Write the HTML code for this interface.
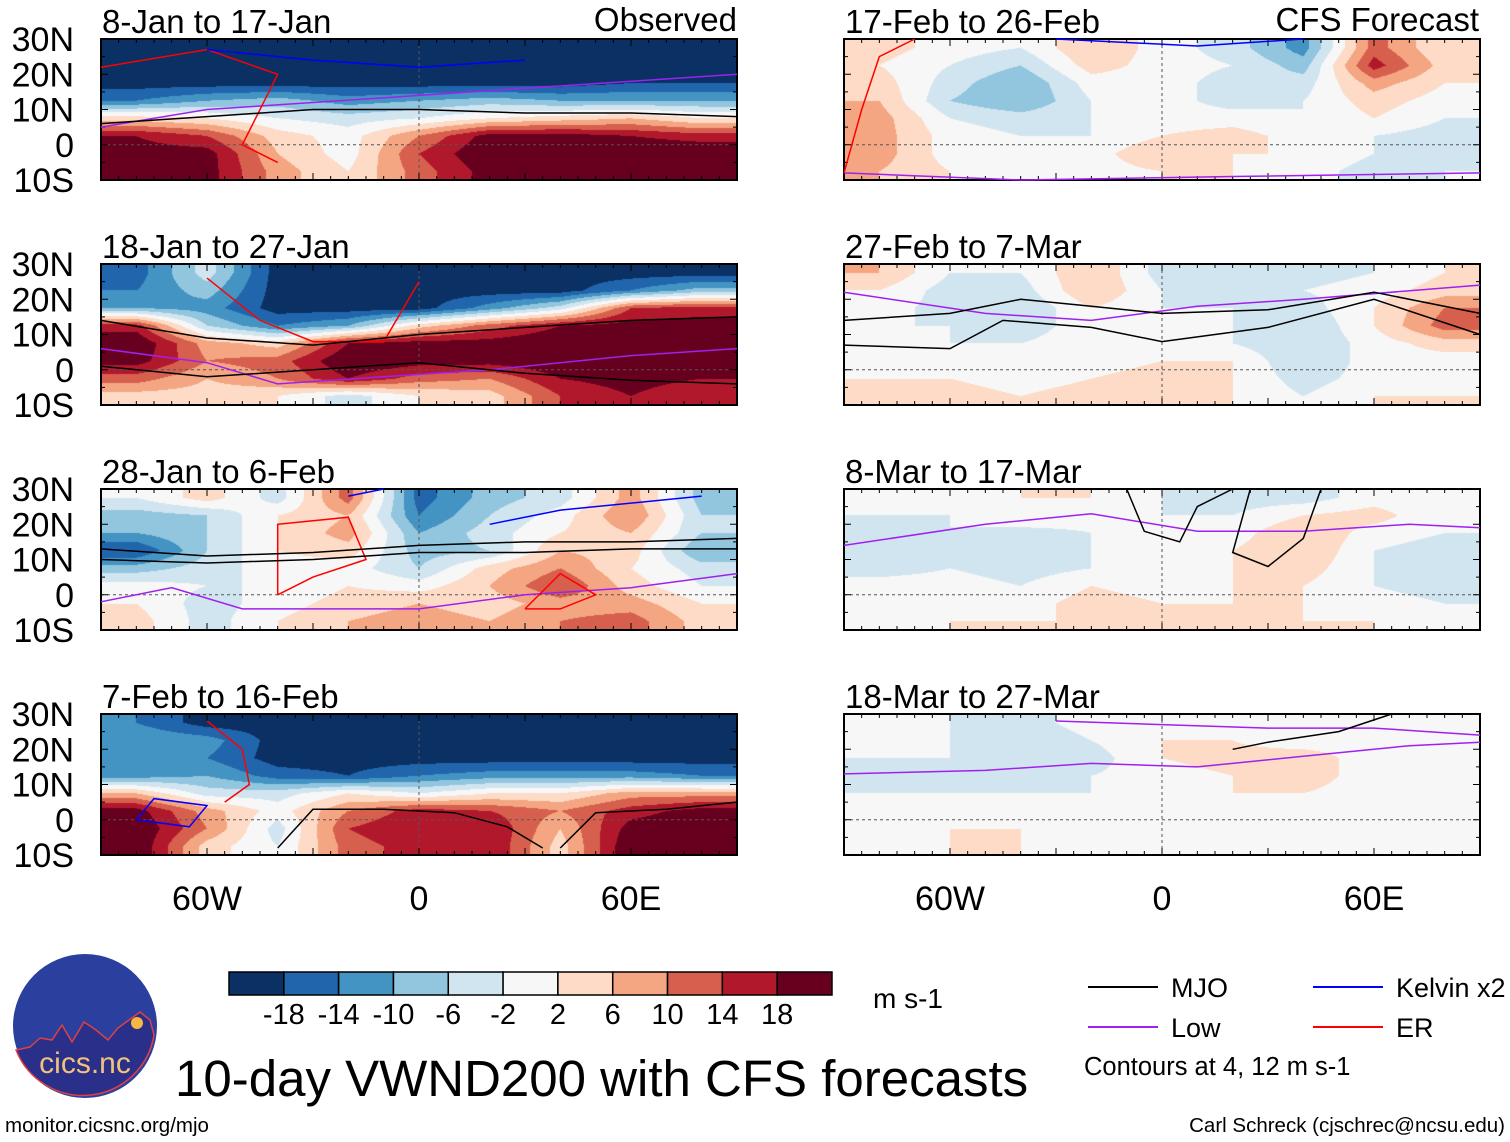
<!DOCTYPE html>
<html><head><meta charset="utf-8">
<style>
html,body{margin:0;padding:0;background:#fff;}
body{width:1510px;height:1142px;position:relative;overflow:hidden;font-family:"Liberation Sans",Arial,sans-serif;}
canvas{position:absolute;}
</style></head>
<body>
<svg id="chart" width="1510" height="1142" style="position:absolute;left:0;top:0"></svg>
<script>
// ---- data (grid: rows lat 27.5..-7.5 step 5; cols lon -80..80 step 20) ----
const panelTitles = ["8-Jan to 17-Jan","18-Jan to 27-Jan","28-Jan to 6-Feb","7-Feb to 16-Feb","17-Feb to 26-Feb","27-Feb to 7-Mar","8-Mar to 17-Mar","18-Mar to 27-Mar"];
const gridLats = [27.5,22.5,17.5,12.5,7.5,2.5,-2.5,-7.5];
const gridLons = [-80,-60,-40,-20,0,20,40,60,80];
const p1 = [[-20,-20,-20,-20,-20,-20,-20,-20,-20],[-20,-20,-20,-20,-20,-20,-20,-20,-20],[-20,-20,-20,-20,-20,-20,-20,-18,-18],[-14,-10,-8,-12,-10,-8,-10,-10,-10],[4,2,-2,-4,-2,2,4,6,2],[18,14,4,0,10,20,20,18,16],[20,20,6,0,14,22,22,22,22],[20,20,8,2,12,20,22,22,22]];
const p2 = [[-16,-4,-20,-20,-20,-20,-20,-20,-20],[-14,-8,-20,-20,-20,-20,-20,-14,-8],[-10,-12,-20,-20,-20,-12,-4,14,16],[16,-6,-14,-10,4,12,18,20,20],[22,8,4,18,20,20,22,22,22],[20,10,12,22,20,20,22,22,20],[12,6,10,18,12,10,18,20,18],[4,4,2,-4,2,4,14,18,14]];
const p3 = [[-2,4,-4,12,-16,-8,-4,8,-8],[-8,-6,2,6,-14,-6,0,10,-6],[-10,-6,2,8,-10,-4,2,6,-6],[-18,-6,2,4,-8,-6,6,4,-10],[-8,-4,0,0,-6,4,10,2,-4],[0,-2,-2,2,0,6,14,4,-2],[2,-4,0,4,6,4,8,8,2],[4,-4,2,6,8,6,10,12,4]];
const p4 = [[-14,-20,-20,-20,-20,-20,-20,-20,-20],[-10,-12,-20,-20,-20,-20,-20,-20,-20],[-14,-14,-20,-20,-20,-20,-20,-20,-20],[-12,-10,-16,-18,-14,-12,-12,-12,-14],[6,-4,-4,2,-2,2,2,8,8],[20,8,0,10,16,14,10,16,20],[22,10,-4,14,18,18,6,20,22],[22,4,-2,12,16,18,4,22,22]];
const p5 = [[4,0,-2,6,0,-4,-12,12,2],[2,-2,-6,4,0,-2,-8,16,4],[4,-4,-10,0,0,-4,-4,8,2],[6,-6,-10,-2,0,-4,-2,4,0],[8,-2,-4,-2,0,0,-2,2,-2],[8,0,-2,-2,2,4,0,-2,-4],[8,0,0,0,6,2,2,-2,-4],[6,2,0,0,2,2,0,-4,-2]];
const p6 = [[6,-2,-2,6,-4,-2,-4,-2,2],[2,-4,-4,6,-2,-4,-2,0,4],[0,-4,-6,2,-2,-2,-4,2,10],[-2,-2,-4,0,0,-2,-6,2,12],[0,-2,-2,0,0,-2,-6,0,4],[0,0,-2,0,2,2,-6,0,0],[2,2,0,2,4,2,-4,0,0],[2,4,2,4,4,2,-2,2,2]];
const p7 = [[-2,-2,2,2,-2,-4,-4,0,-2],[-2,-2,2,0,-2,-2,2,4,-2],[-4,-2,-4,-2,-2,0,6,0,-2],[-6,-4,-6,-2,0,2,6,-2,-4],[-4,-2,-4,-2,0,2,4,-2,-6],[0,0,-2,2,0,2,2,-2,-4],[2,2,0,4,2,2,2,0,-2],[0,2,2,2,2,4,2,2,0]];
const p8 = [[0,-2,-4,0,0,-2,0,0,0],[-2,-2,-6,-2,2,2,-2,0,0],[-2,-2,-6,-4,2,4,6,-2,0],[-4,-2,-4,-2,0,2,4,0,0],[-2,-2,-2,-2,0,2,2,0,0],[0,0,0,0,0,0,0,0,0],[0,2,2,0,0,0,2,0,0],[0,2,2,0,0,0,0,0,0]];
const panelGrids = [p1,p2,p3,p4,p5,p6,p7,p8];
const levels = [-18,-14,-10,-6,-2,2,6,10,14,18];
const levelLabels = ["-18","-14","-10","-6","-2","2","6","10","14","18"];
const palette = ["#0a3064","#2166ac","#4393c3","#92c5de","#d1e5f0","#f7f7f7","#fddbc7","#f4a582","#d6604d","#b2182b","#67001f"];
const mjoLines = [
 [0,[[-90,6],[-60,8],[-30,10],[0,10],[30,9],[60,9],[90,8]]],
 [1,[[-90,14],[-60,9],[-30,7],[0,10],[30,12],[60,14],[90,15]]],
 [1,[[-90,1],[-60,-2],[-30,0],[0,2],[30,-1],[60,-3],[90,-4]]],
 [2,[[-90,13],[-60,11],[-30,12],[0,14],[30,15],[60,15],[90,16]]],
 [2,[[-90,10],[-60,9],[-30,10],[0,12],[30,12],[60,13],[90,13]]],
 [3,[[-40,-8],[-30,3],[-10,3],[10,2],[25,-2],[35,-8]]],
 [3,[[40,-8],[50,2],[70,3],[90,5]]],
 [5,[[-90,7],[-60,6],[-45,14],[-20,12],[0,8],[30,12],[60,20],[90,10]]],
 [5,[[-90,14],[-60,16],[-40,20],[-20,18],[0,16],[30,17],[60,22],[90,16]]],
 [6,[[-10,30],[-5,18],[5,15],[10,25],[20,30]]],
 [6,[[25,30],[20,12],[30,8],[40,16],[45,30]]],
 [7,[[20,20],[30,22],[50,25],[65,30]]]
];
const lowLines = [
 [0,[[-90,5],[-60,10],[-30,12],[0,14],[30,16],[60,18],[90,20]]],
 [1,[[-90,6],[-60,2],[-40,-4],[-10,-2],[20,0],[60,4],[90,6]]],
 [2,[[-90,-2],[-70,2],[-50,-4],[0,-4],[30,0],[60,2],[90,6]]],
 [4,[[-90,-8],[-40,-10],[20,-9],[90,-8]]],
 [5,[[-90,22],[-50,16],[-20,14],[10,18],[40,20],[90,24]]],
 [6,[[-90,14],[-50,20],[-20,23],[10,18],[40,18],[70,20],[90,19]]],
 [7,[[-90,13],[-50,14],[-20,16],[10,15],[40,18],[70,21],[90,22]]],
 [7,[[-30,28],[0,27],[30,26],[60,26],[90,24]]]
];
const erLines = [
 [0,[[-90,22],[-60,27],[-40,20],[-50,0],[-40,-5]]],
 [1,[[-60,26],[-45,14],[-30,8],[-10,8],[0,25]]],
 [2,[[-40,0],[-40,20],[-20,22],[-15,10],[-30,5],[-40,0]]],
 [2,[[30,-4],[40,6],[50,0],[40,-4],[30,-4]]],
 [3,[[-60,28],[-50,20],[-48,10],[-55,5]]],
 [4,[[-90,-8],[-85,10],[-80,25],[-70,30]]]
];
const kelvinLines = [
 [0,[[-60,27],[-30,24],[0,22],[30,24]]],
 [3,[[-80,0],[-65,-2],[-60,4],[-75,6],[-80,0]]],
 [4,[[-30,30],[10,28],[40,30]]],
 [2,[[-20,28],[-10,30]]],
 [2,[[20,20],[40,24],[80,28]]]
];
const colX = [101,844], rowY = [39,264,489,714], PW=636, PH=141;
const lonLeft=-90, lonRight=90, latTop=30, latBot=-10;
function xOf(p,lon){return colX[Math.floor(p/4)] + (lon-lonLeft)/(lonRight-lonLeft)*PW;}
function yOf(p,lat){return rowY[p%4] + (latTop-lat)/(latTop-latBot)*PH;}
function hexRgb(h){return [parseInt(h.substr(1,2),16),parseInt(h.substr(3,2),16),parseInt(h.substr(5,2),16)];}
function sample(g,lon,lat){
  let fc=(lon-gridLons[0])/20, fr=(gridLats[0]-lat)/5;
  fc=Math.max(0,Math.min(gridLons.length-1,fc)); fr=Math.max(0,Math.min(gridLats.length-1,fr));
  const c0=Math.floor(fc),r0=Math.floor(fr),c1=Math.min(c0+1,gridLons.length-1),r1=Math.min(r0+1,gridLats.length-1);
  const sx=fc-c0,sy=fr-r0;
  const a=g[r0][c0]*(1-sx)+g[r0][c1]*sx, b=g[r1][c0]*(1-sx)+g[r1][c1]*sx;
  return a*(1-sy)+b*sy;
}
const NS="http://www.w3.org/2000/svg";
const svg=document.getElementById('chart');
function mk(tag,attrs,parent){const e=document.createElementNS(NS,tag);for(const k in attrs)e.setAttribute(k,attrs[k]);(parent||svg).appendChild(e);return e;}
function txt(s,x,y,size,anchor,name){const e=mk('text',{x:x,y:y,'font-size':size,'text-anchor':anchor||'start','font-family':'Liberation Sans, Arial, sans-serif',fill:'#000'});e.textContent=s;


return e;}

for(let p=0;p<8;p++){
  const x0=colX[Math.floor(p/4)], y0=rowY[p%4];
  const cv=document.createElement('canvas');
  cv.width=PW;cv.height=PH;cv.style.left=x0+'px';cv.style.top=y0+'px';
  
  
  document.body.insertBefore(cv,svg);
  const ctx=cv.getContext('2d');const img=ctx.createImageData(PW,PH);
  const rgbs=palette.map(hexRgb);
  for(let j=0;j<PH;j++){const lat=latTop-(j+0.5)/PH*(latTop-latBot);
    for(let i=0;i<PW;i++){const lon=lonLeft+(i+0.5)/PW*(lonRight-lonLeft);
      const v=sample(panelGrids[p],lon,lat);let k=0;while(k<levels.length&&v>=levels[k])k++;
      const c=rgbs[k],o=(j*PW+i)*4;img.data[o]=c[0];img.data[o+1]=c[1];img.data[o+2]=c[2];img.data[o+3]=255;}}
  ctx.putImageData(img,0,0);
  const g=mk('g',{});
  
  
  mk('line',{x1:x0,x2:x0+PW,y1:yOf(p,0),y2:yOf(p,0),stroke:'#555','stroke-dasharray':'3,3','stroke-width':1},g);
  mk('line',{x1:xOf(p,0),x2:xOf(p,0),y1:y0,y2:y0+PH,stroke:'#555','stroke-dasharray':'3,3','stroke-width':1},g);
  mk('rect',{x:x0,y:y0,width:PW,height:PH,fill:'none',stroke:'#000','stroke-width':2},g);
  for(let lon=-90;lon<=90;lon+=5){const x=xOf(p,lon),L=(lon%30==0)?7:4;
    mk('line',{x1:x,x2:x,y1:y0,y2:y0+L,stroke:'#000','stroke-width':1},g);
    mk('line',{x1:x,x2:x,y1:y0+PH,y2:y0+PH-L,stroke:'#000','stroke-width':1},g);}
  for(let lat=-10;lat<=30;lat+=5){const y=yOf(p,lat),L=(lat%10==0)?7:4;
    mk('line',{x1:x0,x2:x0+L,y1:y,y2:y,stroke:'#000','stroke-width':1},g);
    mk('line',{x1:x0+PW,x2:x0+PW-L,y1:y,y2:y,stroke:'#000','stroke-width':1},g);}
  txt(panelTitles[p],x0+1,y0-6,33,'start','panel-title-'+(p+1));
  if(p<4){const ys=["30N","20N","10N","0","10S"];[30,20,10,0,-10].forEach((lat,k)=>txt(ys[k],74,yOf(p,lat)+12,34,'end','y-tick-label'));}
}
function drawLines(set,color,name){set.forEach(([p,pts])=>{
  const d=pts.map((q,i)=>(i?'L':'M')+xOf(p,q[0]).toFixed(1)+','+yOf(p,q[1]).toFixed(1)).join(' ');
  const e=mk('path',{d:d,fill:'none',stroke:color,'stroke-width':1.5});
  
  });}
drawLines(lowLines,'#a020f0','low-contour');
drawLines(erLines,'#ff0000','er-contour');
drawLines(kelvinLines,'#0000ff','kelvin-contour');
drawLines(mjoLines,'#000000','mjo-contour');
txt("Observed",737,31,33,'end','observed-label');
txt("CFS Forecast",1479,31,33,'end','cfs-forecast-label');
[0,1].forEach(c=>{const lab=["60W","0","60E"];[-60,0,60].forEach((lon,k)=>txt(lab[k],xOf(c*4,lon),910,34,'middle','x-tick-label'));});
const cbX=229,cbY=972,cbW=603/11,cbH=23;
palette.forEach((c,i)=>{const r=mk('rect',{x:cbX+i*cbW,y:cbY,width:cbW,height:cbH,fill:c,stroke:'#000','stroke-width':1.5});

});
levels.forEach((v,i)=>txt(levelLabels[i],cbX+(i+1)*cbW,1024,29,'middle','colorbar-label'));
txt("m s-1",873,1008,28,'start','units-label');
txt("10-day VWND200 with CFS forecasts",175,1096,51,'start','chart-title');
txt("monitor.cicsnc.org/mjo",5,1132,20.5,'start','url-label');
txt("Carl Schreck (cjschrec@ncsu.edu)",1505,1132,20.5,'end','author-label');
const legend=[["MJO","#000",1088,987],["Kelvin x2","#0000ff",1313,987],["Low","#a020f0",1088,1027],["ER","#ff0000",1313,1027]];
legend.forEach(([n,c,x,y])=>{const l=mk('line',{x1:x,x2:x+70,y1:y,y2:y,stroke:c,'stroke-width':2});


txt(n,x+83,y+10,27,'start','legend-entry');});
txt("Contours at 4, 12 m s-1",1084,1075,25.5,'start','contour-note');
const lg=mk('g',{});


mk('circle',{cx:85,cy:1026,r:72,fill:'#2a3f9e'},lg);
mk('path',{d:'M30,1047 L40,1038 L52,1040 L62,1025 L72,1042 L84,1022 L96,1030 L108,1040 L118,1028 L140,1012 L150,1020 L154,1035 A72,72 0 0 1 16,1050 Z',fill:'#2a2f8a',stroke:'#e04040','stroke-width':1.5},lg);
mk('circle',{cx:137,cy:1023,r:6,fill:'#f5b840'},lg);
const lt=mk('text',{x:85,y:1073,'font-size':30,'text-anchor':'middle',fill:'#f3c27a','font-family':'Liberation Sans, Arial, sans-serif'},lg);lt.textContent="cics.nc";
</script>
</body></html>
